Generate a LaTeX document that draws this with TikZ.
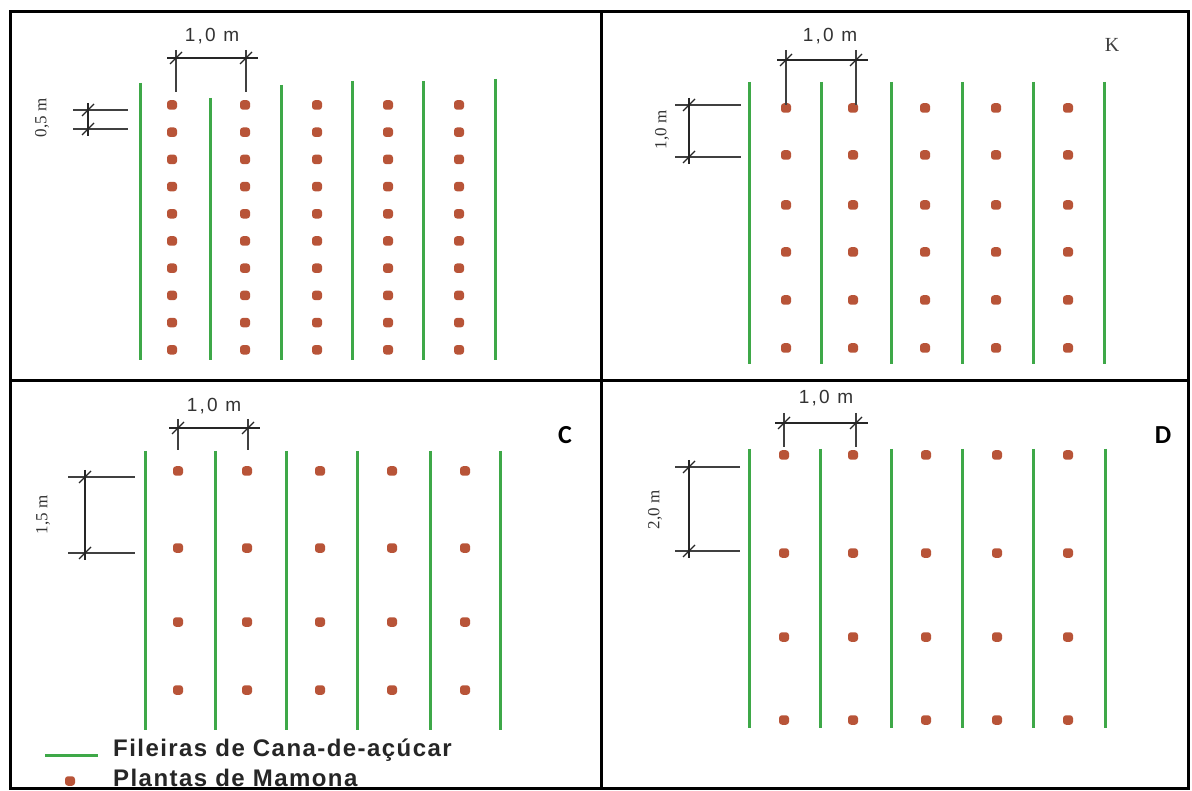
\documentclass[tikz,border=0pt]{standalone}
\usepackage{fontspec}
\setmainfont{Liberation Sans}
\newfontfamily\serifA{Liberation Serif}
\newfontfamily\carl{Carlito}
\newfontfamily\dimfont[LetterSpace=12]{Liberation Sans}
\newfontfamily\legfont[LetterSpace=6]{Liberation Sans}
\definecolor{cane}{RGB}{62,168,72}
\definecolor{mam}{RGB}{184,84,56}
\tikzset{
 caneline/.style={draw=cane, line width=3pt},
 frame/.style={draw=black, line width=3pt},
 dimline/.style={draw=black!85, line width=1.3pt},
 extline/.style={draw=black!75, line width=1.1pt},
 dimtxt/.style={font=\dimfont\fontsize{19}{19}\selectfont, text=black!80, inner sep=0},
 vdimtxt/.style={font=\serifA\fontsize{17}{17}\selectfont, text=black!80, inner sep=0, rotate=90},
 paneltxt/.style={font=\carl\bfseries\fontsize{26}{26}\selectfont, inner sep=0},
 legendtxt/.style={font=\legfont\bfseries\fontsize{24}{24}\selectfont, anchor=west, inner sep=0, text=black!85},
 mdot/.style={fill=mam, rounded corners=3pt, minimum width=10pt, minimum height=9.5pt, inner sep=0, draw=none},
}
\newcommand\HDim[5]{%
 \draw[extline] (#1,#4) -- (#1,#5);
 \draw[extline] (#2,#4) -- (#2,#5);
 \draw[dimline] (#1-9,#3) -- (#2+12,#3);
 \draw[dimline] (#1-6,#3+6) -- (#1+6,#3-6);
 \draw[dimline] (#2-6,#3+6) -- (#2+6,#3-6);
}
\newcommand\VDim[5]{%
 \draw[extline] (#4,#1) -- (#5,#1);
 \draw[extline] (#4,#2) -- (#5,#2);
 \draw[dimline] (#3,#1-7) -- (#3,#2+7);
 \draw[dimline] (#3-6,#1+6) -- (#3+6,#1-6);
 \draw[dimline] (#3-6,#2+6) -- (#3+6,#2-6);
}
\begin{document}
\begin{tikzpicture}[x=1pt,y=-1pt]
\useasboundingbox (0,0) rectangle (1192,791);
\fill[white] (0,0) rectangle (1192,791);
% frame
\draw[frame] (10,12) rectangle (1188,788);
\draw[frame] (601,12) -- (601,788);
\draw[frame] (10,381) -- (1188,381);

% ---------- Panel A ----------
\foreach \x/\t in {140/83,210/98,281/85,352/81,423/81,495/79}
  \draw[caneline] (\x,\t) -- (\x,360);
\foreach \x [count=\c] in {172,245,317,388,459}
  \foreach \i in {0,...,9}
    \node[mdot] (a-\c-\i) at (\x,{105+27.2*\i}) {};
\HDim{176}{246}{58}{50}{92}
\node[dimtxt] (ta) at (212,36) {1,0 m};
\VDim{110}{129}{88}{73}{128}
\node[vdimtxt] (va) at (42,118) {0,5 m};

% ---------- Panel B ----------
\foreach \x in {749,821,891,962,1033,1104}
  \draw[caneline] (\x,82) -- (\x,364);
\foreach \x [count=\c] in {786,853,925,996,1068}
  \foreach \y [count=\r] in {108,155,205,252,300,348}
    \node[mdot] (b-\c-\r) at (\x,\y) {};
\HDim{786}{856}{60}{50}{105}
\node[dimtxt] (tb) at (830,36) {1,0 m};
\VDim{105}{157}{689}{675}{741}
\node[vdimtxt] (vb) at (662,130) {1,0 m};
\node[font=\serifA\fontsize{20}{20}\selectfont, text=black!75, inner sep=0] (kb) at (1112,45) {K};

% ---------- Panel C ----------
\foreach \x in {145,215,286,357,430,500}
  \draw[caneline] (\x,451) -- (\x,730);
\foreach \x [count=\c] in {178,247,320,392,465}
  \foreach \y [count=\r] in {471,548,622,690}
    \node[mdot] (c-\c-\r) at (\x,\y) {};
\HDim{178}{248}{428}{419}{450}
\node[dimtxt] (tc) at (214,406) {1,0 m};
\VDim{477}{553}{85}{68}{135}
\node[vdimtxt] (vc) at (43,515) {1,5 m};
\node[paneltxt] (lc) at (565,435) {C};

% legend
\draw[caneline] (45,755) -- (98,755);
\node[legendtxt] (l1) at (113,750) {Fileiras de Cana-de-açúcar};
\node[mdot] (ld) at (70,781) {};
\node[legendtxt] (l2) at (113,778) {Plantas de Mamona};

% ---------- Panel D ----------
\foreach \x in {749,820,891,962,1033,1105}
  \draw[caneline] (\x,449) -- (\x,728);
\foreach \x [count=\c] in {784,853,926,997,1068}
  \foreach \y [count=\r] in {455,553,637,720}
    \node[mdot] (d-\c-\r) at (\x,\y) {};
\HDim{784}{856}{423}{413}{447}
\node[dimtxt] (td) at (826,398) {1,0 m};
\VDim{467}{551}{689}{675}{740}
\node[vdimtxt] (vd) at (655,510) {2,0 m};
\node[paneltxt] (ldd) at (1163,435) {D};
\end{tikzpicture}
\end{document}
